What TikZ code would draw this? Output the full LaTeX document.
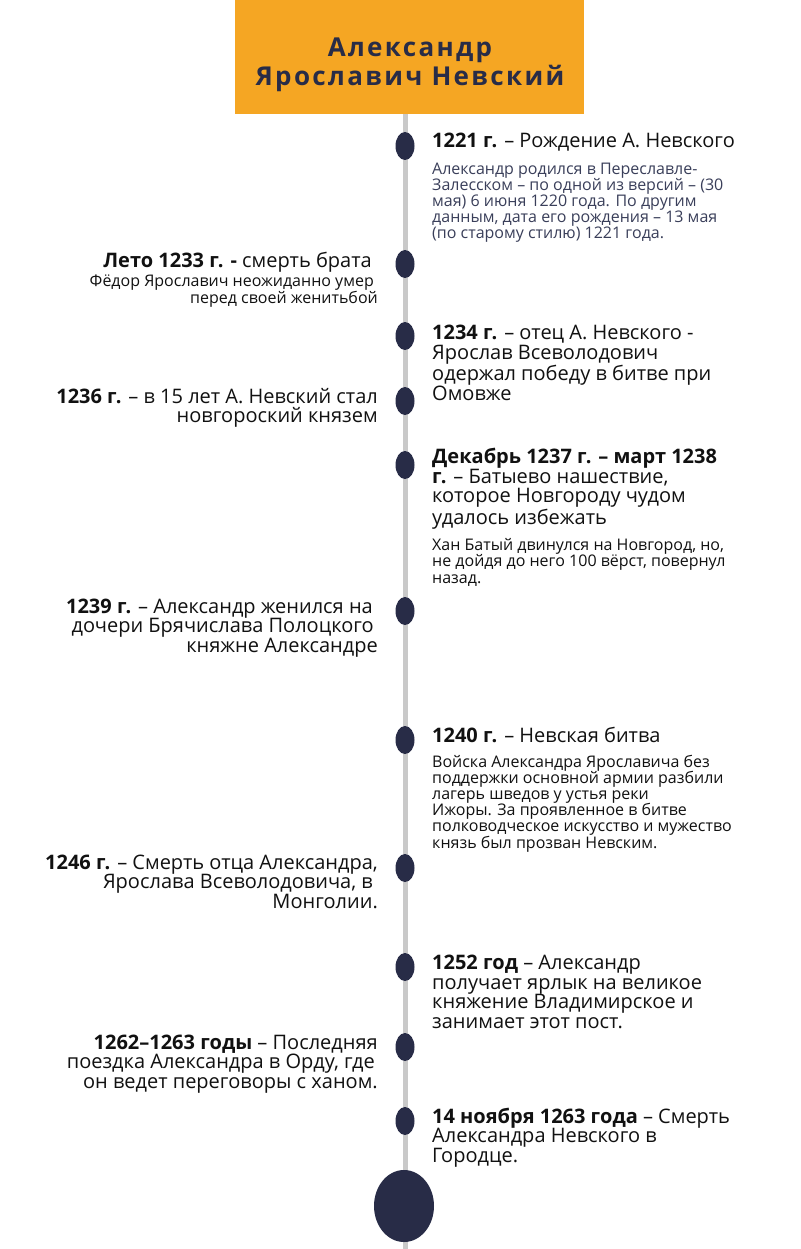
\documentclass[tikz,border=0pt]{standalone}
\usepackage{fontspec}
\setmainfont{Open Sans}
\newfontfamily\titlefont[LetterSpace=9]{Open Sans}
\usetikzlibrary{shapes.geometric}
\definecolor{orangebg}{HTML}{F5A623}
\definecolor{navy}{HTML}{282C47}
\definecolor{linegray}{HTML}{C9C9C9}
\definecolor{subnavy}{HTML}{3A3F5A}
\definecolor{ink}{HTML}{111111}
\tikzset{
  dot/.style={ellipse, fill=navy, minimum width=19pt, minimum height=28pt, inner sep=0pt},
  bigdot/.style={ellipse, fill=navy, minimum width=60pt, minimum height=72pt, inner sep=0pt},
  head/.style={font=\fontsize{20}{19.5}\selectfont, text=ink, inner sep=0pt},
  sub/.style={font=\fontsize{16}{16.2}\selectfont, text=ink, inner sep=0pt},
  rtext/.style={anchor=base west, align=left},
  ltext/.style={anchor=base east, align=right},
}
\begin{document}
\begin{tikzpicture}[x=1pt,y=-1pt]
\useasboundingbox (0,0) rectangle (800,1249);
\fill[white] (0,0) rectangle (800,1249);
% title
\node[fill=orangebg, minimum width=349pt, minimum height=114pt, inner sep=0pt, anchor=north west] (titlebox) at (235,0) {};
\node[font=\titlefont\bfseries\fontsize{26}{29}\selectfont, text=navy, align=center, anchor=base, inner sep=0pt] (title) at (410,86) {Александр\\Ярославич Невский};
% timeline
\coordinate (top) at (405,114);
\coordinate (bottom) at (405,1249);
\draw[linegray, line width=5pt] (top) -- (bottom);
% dots
\node[dot] (d1) at (405,146) {};
\node[dot] (d2) at (405,264) {};
\node[dot] (d3) at (405,336) {};
\node[dot] (d4) at (405,401) {};
\node[dot] (d5) at (405,465) {};
\node[dot] (d6) at (405,611) {};
\node[dot] (d7) at (405,740) {};
\node[dot] (d8) at (405,868) {};
\node[dot] (d9) at (405,967) {};
\node[dot] (d10) at (405,1047) {};
\node[dot] (d11) at (405,1121) {};
\node[bigdot] (end) at (404,1206) {};
% texts (base anchor = baseline of the last line)
\node[head, rtext] (t1) at (432,148) {\textbf{1221 г.} – Рождение А. Невского};
\node[sub, rtext, text=subnavy] (s1) at (432,239) {Александр родился в Переславле-\\Залесском – по одной из версий – (30\\мая) 6 июня 1220 года. По другим\\данным, дата его рождения – 13 мая\\(по старому стилю) 1221 года.};
\node[head, ltext] (t2) at (378,267) {\textbf{Лето 1233 г. -} смерть брата\kern6pt};
\node[sub, ltext] (s2) at (378,303) {Фёдор Ярославич неожиданно умер\kern4pt\\перед своей женитьбой};
\node[head, rtext] (t3) at (432,400) {\textbf{1234 г.} – отец А. Невского -\\Ярослав Всеволодович\\одержал победу в битве при\\Омовже};
\node[head, ltext] (t4) at (378,422.5) {\textbf{1236 г.} – в 15 лет А. Невский стал\\новгороский князем};
\node[head, rtext] (t5) at (432,524) {\textbf{Декабрь 1237 г. – март 1238}\\\textbf{г.} – Батыево нашествие,\\которое Новгороду чудом\\удалось избежать};
\node[sub, rtext] (s5) at (432,583) {Хан Батый двинулся на Новгород, но,\\не дойдя до него 100 вёрст, повернул\\назад.};
\node[head, ltext] (t6) at (378,652) {\textbf{1239 г.} – Александр женился на\kern5pt\\дочери Брячислава Полоцкого\kern4pt\\княжне Александре};
\node[head, rtext] (t7) at (432,742) {\textbf{1240 г.} – Невская битва};
\node[sub, rtext] (s7) at (432,848) {Войска Александра Ярославича без\\поддержки основной армии разбили\\лагерь шведов у устья реки\\Ижоры. За проявленное в битве\\полководческое искусство и мужество\\князь был прозван Невским.};
\node[head, ltext] (t8) at (378,908) {\textbf{1246 г.} – Смерть отца Александра,\\Ярослава Всеволодовича, в\kern5pt\\Монголии.};
\node[head, rtext] (t9) at (432,1028) {\textbf{1252 год} – Александр\\получает ярлык на великое\\княжение Владимирское и\\занимает этот пост.};
\node[head, ltext] (t10) at (378,1088) {\textbf{1262–1263 годы} – Последняя\\поездка Александра в Орду, где\kern3pt\\он ведет переговоры с ханом.};
\node[head, rtext] (t11) at (432,1162) {\textbf{14 ноября 1263 года} – Смерть\\Александра Невского в\\Городце.};
\end{tikzpicture}
\end{document}
